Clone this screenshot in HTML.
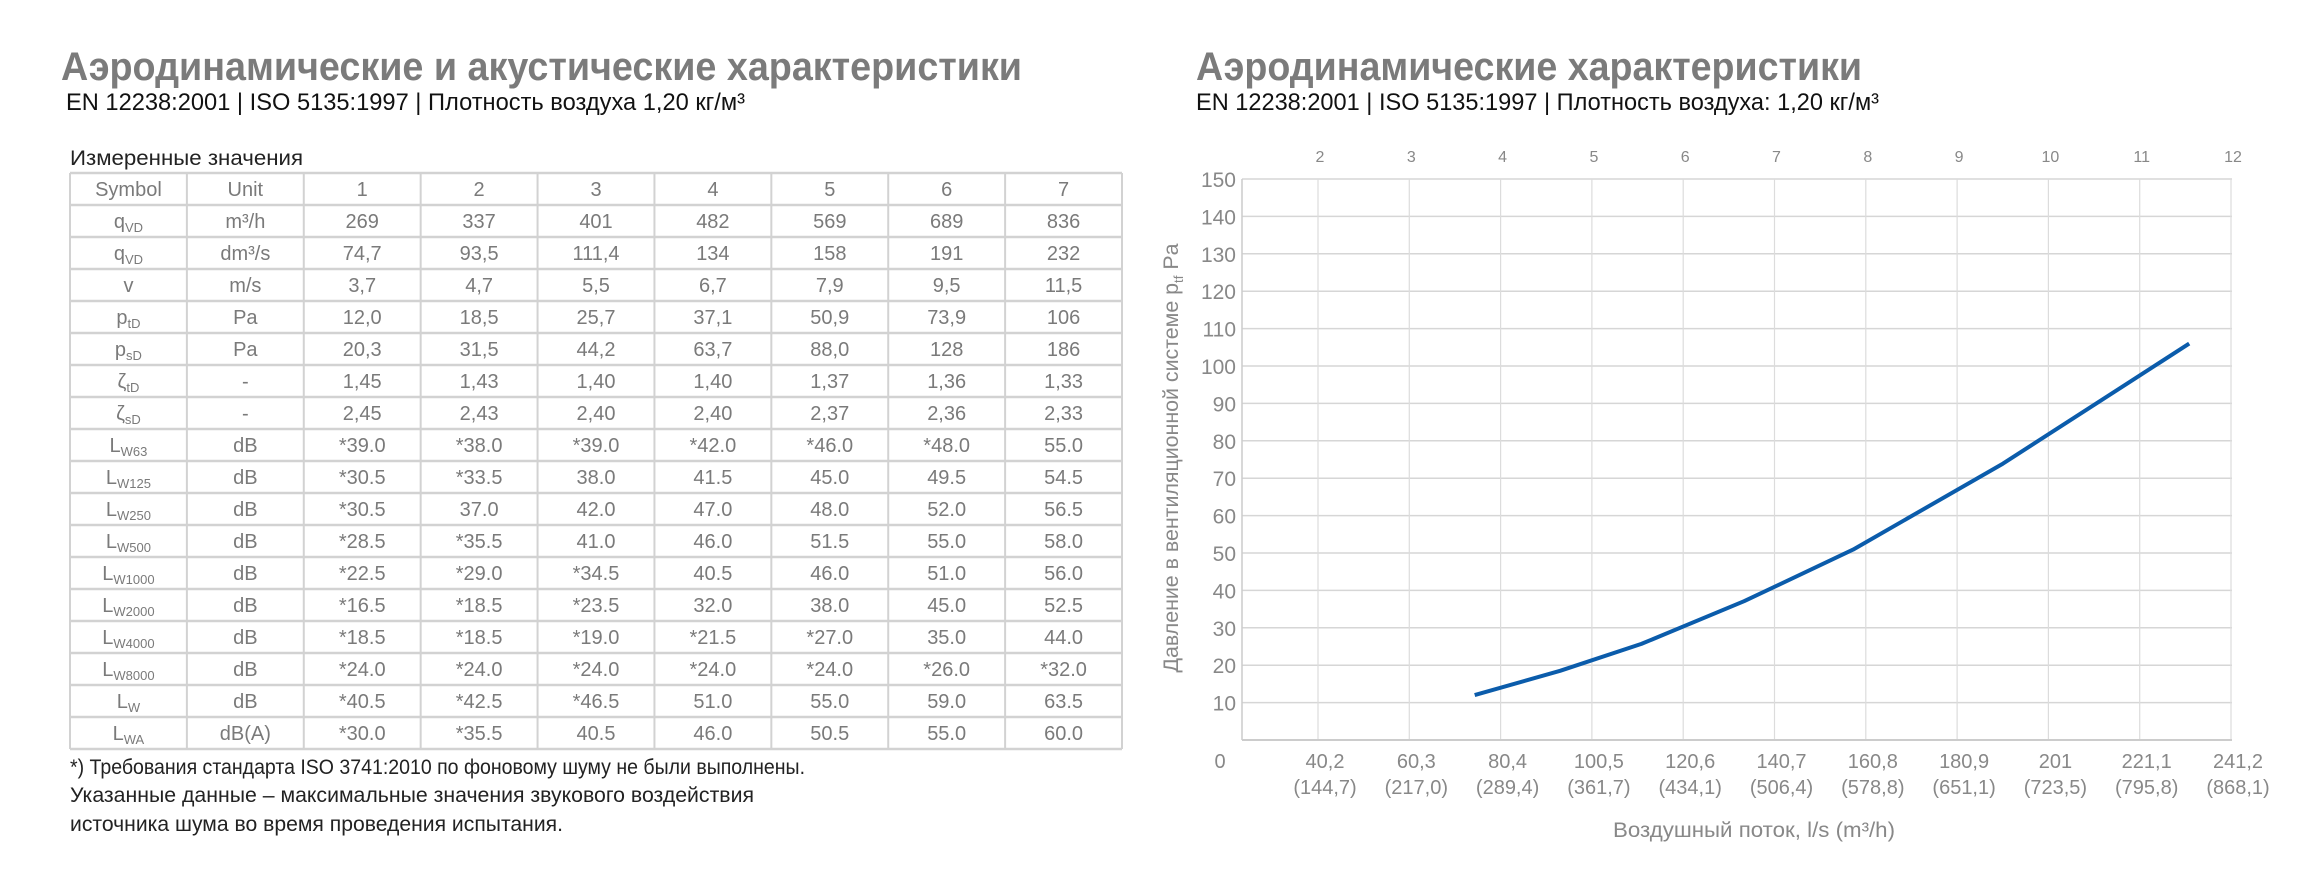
<!DOCTYPE html>
<html><head><meta charset="utf-8"><style>
html,body{margin:0;padding:0;background:#fff}
svg{display:block}
text{font-family:"Liberation Sans","DejaVu Sans",sans-serif}
</style></head><body>
<svg id="s" width="2320" height="888" viewBox="0 0 2320 888" xmlns="http://www.w3.org/2000/svg">
<text x="61" y="80" font-size="40" font-weight="bold" fill="#7b7b7b" textLength="961" lengthAdjust="spacingAndGlyphs">Аэродинамические и акустические характеристики</text>
<text x="66" y="110" font-size="24" fill="#111" textLength="679" lengthAdjust="spacingAndGlyphs">EN 12238:2001  |  ISO 5135:1997  |  Плотность воздуха 1,20 кг/м³</text>
<text x="70" y="165" font-size="21" fill="#222" textLength="233" lengthAdjust="spacingAndGlyphs">Измеренные значения</text>
<g id="tbl"></g>
<text x="70" y="774" font-size="21" fill="#222" textLength="735" lengthAdjust="spacingAndGlyphs">*) Требования стандарта ISO 3741:2010 по фоновому шуму не были выполнены.</text>
<text x="70" y="802" font-size="21" fill="#222" textLength="684" lengthAdjust="spacingAndGlyphs">Указанные данные – максимальные значения звукового воздействия</text>
<text x="70" y="831" font-size="21" fill="#222" textLength="493" lengthAdjust="spacingAndGlyphs">источника шума во время проведения испытания.</text>

<text x="1196" y="80" font-size="40" font-weight="bold" fill="#7b7b7b" textLength="666" lengthAdjust="spacingAndGlyphs">Аэродинамические характеристики</text>
<text x="1196" y="110" font-size="24" fill="#111" textLength="683" lengthAdjust="spacingAndGlyphs">EN 12238:2001  |  ISO 5135:1997  |  Плотность воздуха: 1,20 кг/м³</text>
<g id="chart"></g>
<text x="1754" y="837" font-size="21" fill="#888" text-anchor="middle" textLength="282" lengthAdjust="spacingAndGlyphs">Воздушный поток, l/s (m³/h)</text>
<text transform="translate(1178,458) rotate(-90)" font-size="21" fill="#888" text-anchor="middle" textLength="429" lengthAdjust="spacingAndGlyphs">Давление в вентиляционной системе p<tspan font-size="13" dy="5">tf</tspan><tspan dy="-5"> Pa</tspan></text>
</svg>
<script>
const NS="http://www.w3.org/2000/svg";
// table data
const colHeaders=["Symbol","Unit","1","2","3","4","5","6","7"];
const rowSymbols=[["q","VD"],["q","VD"],["v",""],["p","tD"],["p","sD"],["ζ","tD"],["ζ","sD"],["L","W63"],["L","W125"],["L","W250"],["L","W500"],["L","W1000"],["L","W2000"],["L","W4000"],["L","W8000"],["L","W"],["L","WA"]];
const rowUnits=["m³/h","dm³/s","m/s","Pa","Pa","-","-","dB","dB","dB","dB","dB","dB","dB","dB","dB","dB(A)"];
const rowValues=[
["269","337","401","482","569","689","836"],
["74,7","93,5","111,4","134","158","191","232"],
["3,7","4,7","5,5","6,7","7,9","9,5","11,5"],
["12,0","18,5","25,7","37,1","50,9","73,9","106"],
["20,3","31,5","44,2","63,7","88,0","128","186"],
["1,45","1,43","1,40","1,40","1,37","1,36","1,33"],
["2,45","2,43","2,40","2,40","2,37","2,36","2,33"],
["*39.0","*38.0","*39.0","*42.0","*46.0","*48.0","55.0"],
["*30.5","*33.5","38.0","41.5","45.0","49.5","54.5"],
["*30.5","37.0","42.0","47.0","48.0","52.0","56.5"],
["*28.5","*35.5","41.0","46.0","51.5","55.0","58.0"],
["*22.5","*29.0","*34.5","40.5","46.0","51.0","56.0"],
["*16.5","*18.5","*23.5","32.0","38.0","45.0","52.5"],
["*18.5","*18.5","*19.0","*21.5","*27.0","35.0","44.0"],
["*24.0","*24.0","*24.0","*24.0","*24.0","*26.0","*32.0"],
["*40.5","*42.5","*46.5","51.0","55.0","59.0","63.5"],
["*30.0","*35.5","40.5","46.0","50.5","55.0","60.0"]];
// chart data
const flowLs=[74.7,93.5,111.4,134,158,191,232];
const pressurePa=[12.0,18.5,25.7,37.1,50.9,73.9,106];
const yTicks=[10,20,30,40,50,60,70,80,90,100,110,120,130,140,150];
const xTicks=[40.2,60.3,80.4,100.5,120.6,140.7,160.8,180.9,201,221.1,241.2];
const xTickLabels=["40,2","60,3","80,4","100,5","120,6","140,7","160,8","180,9","201","221,1","241,2"];
const xTickLabels2=["(144,7)","(217,0)","(289,4)","(361,7)","(434,1)","(506,4)","(578,8)","(651,1)","(723,5)","(795,8)","(868,1)"];
const topLabels=["2","3","4","5","6","7","8","9","10","11","12"];

function mk(tag,attrs,parent,txt){const e=document.createElementNS(NS,tag);for(const k in attrs)e.setAttribute(k,attrs[k]);if(txt!==undefined)e.textContent=txt;parent.appendChild(e);return e;}

// table
const tbl=document.getElementById('tbl');
const TX=70,TW=1122-70,TY=173,RH=32,NR=18,CW=TW/9;
for(let r=0;r<=NR;r++){const l=mk('line',{x1:TX,x2:TX+TW,y1:TY+r*RH,y2:TY+r*RH,stroke:'#d2d2d2','stroke-width':2.5},tbl);

}
for(let c=0;c<=9;c++){const l=mk('line',{x1:TX+c*CW,x2:TX+c*CW,y1:TY,y2:TY+NR*RH,stroke:'#d2d2d2','stroke-width':2},tbl);

}
const cellAttrs=(c,r)=>({x:TX+(c+0.5)*CW,y:TY+r*RH+RH/2+7,'font-size':20,fill:'#7a7a7a','text-anchor':'middle'});
colHeaders.forEach((h,c)=>{const t=mk('text',cellAttrs(c,0),tbl,h);

});
rowSymbols.forEach((s,i)=>{const r=i+1;
const t=mk('text',cellAttrs(0,r),tbl,s[0]);


if(s[1]){mk('tspan',{'font-size':13,dy:4},t,s[1]);}
const u=mk('text',cellAttrs(1,r),tbl,rowUnits[i]);


rowValues[i].forEach((v,j)=>{const t2=mk('text',cellAttrs(j+2,r),tbl,v);

});
});

// chart
const ch=document.getElementById('chart');
const PL=1242,PR=2232,PT=179,PB=740;
const xS=v=>1318+(v-40.2)*(2231-1318)/(241.2-40.2);
const yS=v=>PB-v*(PB-PT)/150;
yTicks.forEach(v=>{const l=mk('line',{x1:PL,x2:PR,y1:yS(v),y2:yS(v),stroke:'#d6d6d6','stroke-width':1.5},ch);


const t=mk('text',{x:1236,y:yS(v)+8,'font-size':21,fill:'#888','text-anchor':'end'},ch,String(v));

});
xTicks.forEach((v,i)=>{const l=mk('line',{x1:xS(v),x2:xS(v),y1:PT,y2:PB,stroke:'#dcdcdc','stroke-width':1.2},ch);


const t=mk('text',{x:xS(v)+7,y:768,'font-size':20,fill:'#888','text-anchor':'middle'},ch,xTickLabels[i]);


const t2=mk('text',{x:xS(v)+7,y:794,'font-size':20,fill:'#888','text-anchor':'middle'},ch,xTickLabels2[i]);


const t3=mk('text',{x:xS(v)+2,y:162,'font-size':16,fill:'#888','text-anchor':'middle'},ch,topLabels[i]);

});
const ax=mk('line',{x1:PL,x2:PL,y1:PT,y2:PB,stroke:'#ccc','stroke-width':1.5},ch);


const bx=mk('line',{x1:PL,x2:PR,y1:PB,y2:PB,stroke:'#ccc','stroke-width':2},ch);


const z=mk('text',{x:1220,y:768,'font-size':20,fill:'#888','text-anchor':'middle'},ch,'0');


const pts=flowLs.map((f,i)=>xS(f).toFixed(1)+','+yS(pressurePa[i]).toFixed(1)).join(' ');
const pl=mk('polyline',{points:pts,fill:'none',stroke:'#0b5cab','stroke-width':4,'stroke-linejoin':'round'},ch);


</script>
</body></html>
